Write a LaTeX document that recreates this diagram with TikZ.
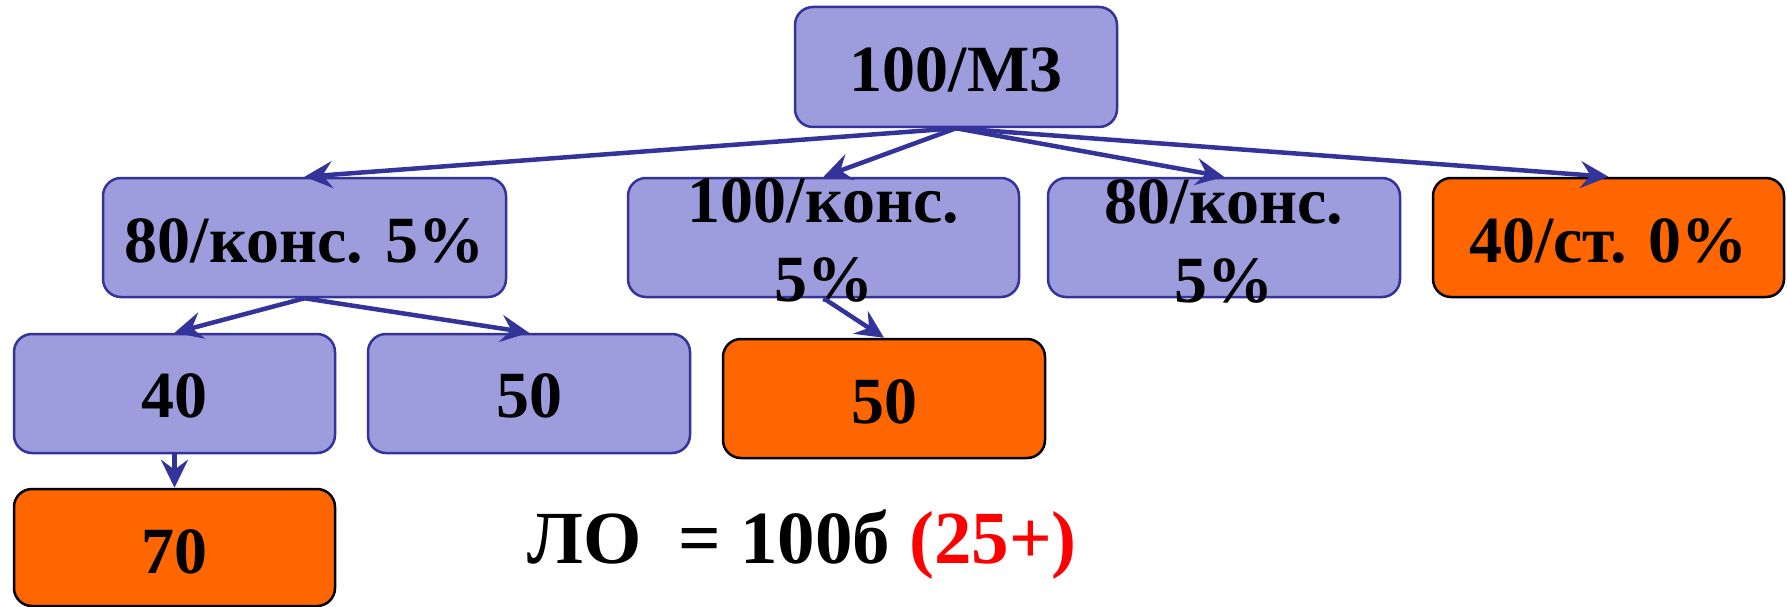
\documentclass[tikz,border=0pt]{standalone}
\usepackage{fontspec}
\setmainfont{Liberation Serif}
\usetikzlibrary{arrows.meta}
\definecolor{boxblue}{RGB}{157,157,222}
\definecolor{lineblue}{RGB}{51,51,153}
\definecolor{boxorange}{RGB}{255,102,0}
\definecolor{txtred}{RGB}{255,0,0}
\begin{document}
\begin{tikzpicture}[x=1pt,y=-1pt,
  bbox/.style={rectangle, rounded corners=18pt, line width=2.5pt, inner sep=0pt},
  bluebox/.style={bbox, draw=lineblue, fill=boxblue},
  orangebox/.style={bbox, draw=black, fill=boxorange},
  lbl/.style={font=\fontsize{66}{80}\selectfont\bfseries, inner sep=0pt, anchor=base},
  big/.style={font=\fontsize{75}{88}\selectfont\bfseries, inner sep=0pt, anchor=base west},
  conn/.style={draw=lineblue, line width=4.5pt, -{Stealth[length=28pt,width=27pt,inset=10pt]}}]
\useasboundingbox (0,0) rectangle (1787,607);
% boxes
\node[bluebox, minimum width=322pt, minimum height=120pt] (top) at (956,67) {};
\node[bluebox, minimum width=403pt, minimum height=119pt] (b1) at (304.5,237.5) {};
\node[bluebox, minimum width=391pt, minimum height=119pt] (b2) at (823.5,237.5) {};
\node[bluebox, minimum width=352pt, minimum height=119pt] (b3) at (1224,237.5) {};
\node[orangebox, minimum width=351pt, minimum height=119pt] (b4) at (1608.5,237.5) {};
\node[bluebox, minimum width=321pt, minimum height=119pt] (c1) at (174.5,393.5) {};
\node[bluebox, minimum width=322pt, minimum height=119pt] (c2) at (529,393.5) {};
\node[orangebox, minimum width=322pt, minimum height=119pt] (c3) at (884,398.5) {};
\node[orangebox, minimum width=321pt, minimum height=117pt] (d1) at (174.5,547.5) {};
% labels
\node[lbl] (ttop) at (956,92) {100/М3};
\node[lbl] (tb1) at (304.5,262) {80/конс. 5\%};
\node[lbl] (tb2a) at (823.5,222) {100/конс.};
\node[lbl] (tb2b) at (823.5,301) {5\%};
\node[lbl] (tb3a) at (1224,223) {80/конс.};
\node[lbl] (tb3b) at (1224,302) {5\%};
\node[lbl] (tb4) at (1608.5,262) {40/ст. 0\%};
\node[lbl] (tc1) at (174.5,417) {40};
\node[lbl] (tc2) at (529,417) {50};
\node[lbl] (tc3) at (884,423) {50};
\node[lbl] (td1) at (174.5,573) {70};
\node[big] (res) at (527,563) {ЛО\ \ = 100б \textcolor{txtred}{(25+)}};
% connectors
\draw[conn] (top.south) -- (b1.north);
\draw[conn] (top.south) -- (b2.north);
\draw[conn] (top.south) -- (b3.north);
\draw[conn] (top.south) -- (b4.north);
\draw[conn] (b1.south) -- (c1.north);
\draw[conn] (b1.south) -- (c2.north);
\draw[conn] (b2.south) -- (c3.north);
\draw[conn] (c1.south) -- (d1.north);
\end{tikzpicture}
\end{document}
